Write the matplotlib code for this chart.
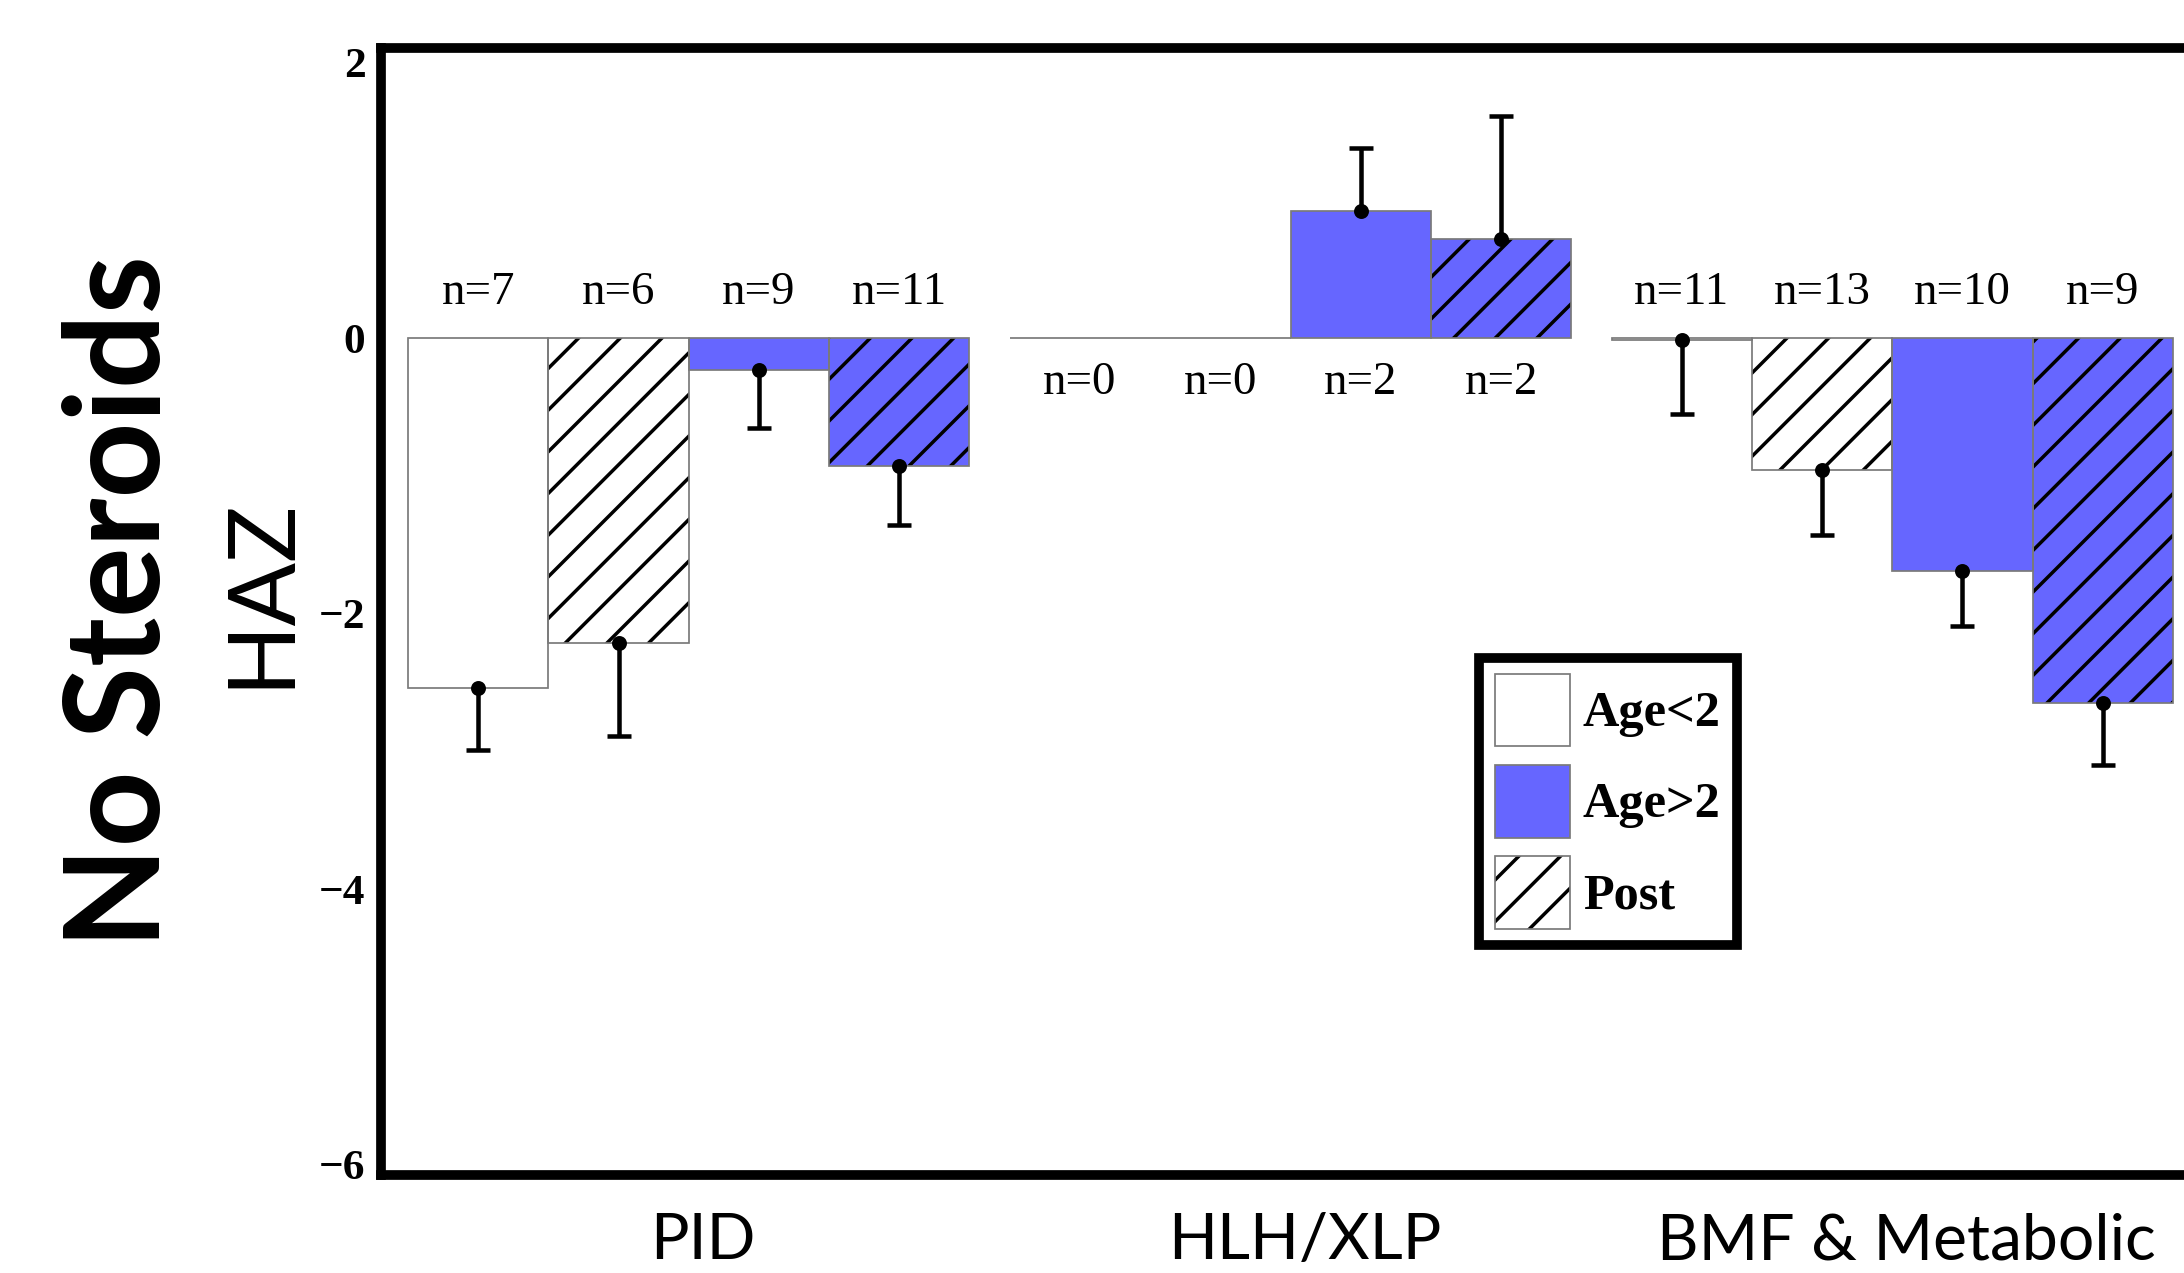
import matplotlib

matplotlib.use("Agg")
import matplotlib.pyplot as plt
import numpy as np
from matplotlib.legend_handler import HandlerTuple
from matplotlib.patches import Patch
from matplotlib.transforms import blended_transform_factory

# HAZ means per group; bar order: Age<2, Age<2 post, Age>2, Age>2 post
GROUPS = ["PID", "HLH/XLP", "BMF & Metabolic"]
PID_HAZ = [-2.54, -2.21, -0.23, -0.93]
HLH_HAZ = [0.0, 0.0, 0.92, 0.72]
BMF_HAZ = [-0.01, -0.96, -1.69, -2.65]
PID_ERR = [0.45, 0.68, 0.42, 0.43]
HLH_ERR = [0.0, 0.0, 0.46, 0.89]
BMF_ERR = [0.54, 0.47, 0.40, 0.45]
PID_N = [7, 6, 9, 11]
HLH_N = [0, 0, 2, 2]
BMF_N = [11, 13, 10, 9]
Y_TICKS = [-6, -4, -2, 0, 2]
LEGEND_LABELS = ["Age<2", "Age>2", "Post"]

BLUE = "#6666ff"
EDGE = "#7a7a7a"
FACES = ["white", "white", BLUE, BLUE]
HATCHES = ["", "//", "", "//"]
GAP = 0.287  # gap between groups, in bar widths
SERIF = "Liberation Serif"
SANS = "Lato"

W, H, DPI = 2184, 1273, 250
plt.rcParams["hatch.linewidth"] = 1.0
plt.rcParams["hatch.color"] = "black"

fig = plt.figure(figsize=(W / DPI, H / DPI), dpi=DPI)
ax = fig.add_axes([381 / W, 98 / H, 1819 / W, 1127 / H])

groups = [
    (PID_HAZ, PID_ERR, PID_N),
    (HLH_HAZ, HLH_ERR, HLH_N),
    (BMF_HAZ, BMF_ERR, BMF_N),
]
for gi, (vals, errs, ns) in enumerate(groups):
    lefts = gi * (4 + GAP) + np.arange(len(vals))
    # n labels sit on the side of zero opposite to the bars
    label_y = -0.32 if max(vals) > 0 else 0.33
    for x, v, e, n, face, hatch in zip(lefts, vals, errs, ns, FACES, HATCHES):
        ax.bar(x, v, 1.0, align="edge", facecolor=face, edgecolor="black",
               linewidth=0, hatch=hatch, zorder=2)
        ax.bar(x, v, 1.0, align="edge", facecolor="none", edgecolor=EDGE,
               linewidth=0.5, zorder=3)
        cx = x + 0.5
        if n > 0:
            tip = v + (e if v > 0 else -e)
            ax.vlines(cx, v, tip, color="black", linewidth=1.3, zorder=4)
            ax.plot([cx], [tip], marker="_", ms=7, mew=1.3, color="black", zorder=4)
            ax.plot([cx], [v], marker="o", ms=3.3, color="black", zorder=5)
        ax.text(cx, label_y, f"n={n}", ha="center", va="center",
                fontfamily=SERIF, fontsize=13.5, zorder=6)

# group names under the frame
trans = blended_transform_factory(ax.transData, fig.transFigure)
for gi, name in enumerate(GROUPS):
    ax.text(gi * (4 + GAP) + 2 + 0.1, 14 / H, name, transform=trans,
            ha="center", va="baseline", fontfamily=SANS, fontsize=18.5)

ax.set_xlim(-0.192, 12.766)
ax.set_ylim(-6.076, 2.107)
ax.set_xticks([])
ax.set_yticks(Y_TICKS)
ax.tick_params(axis="y", length=0, pad=4.5)
for lab in ax.get_yticklabels():
    lab.set_fontfamily(SERIF)
    lab.set_fontweight("bold")
    lab.set_fontsize(12.5)
for sp in ax.spines.values():
    sp.set_linewidth(2.8)
    sp.set_color("black")

handles = [
    Patch(facecolor="white", edgecolor=EDGE, linewidth=0.5),
    Patch(facecolor=BLUE, edgecolor=EDGE, linewidth=0.5),
    (Patch(facecolor="white", edgecolor="black", linewidth=0, hatch="//"),
     Patch(facecolor="none", edgecolor=EDGE, linewidth=0.5)),
]
leg = ax.legend(
    handles, LEGEND_LABELS,
    handler_map={tuple: HandlerTuple(ndivide=1)},
    loc="upper left", bbox_to_anchor=(0.6035, 0.459), borderaxespad=0,
    prop={"family": SERIF, "weight": "bold", "size": 14.5},
    handlelength=1.5, handleheight=1.84, labelspacing=0.37,
    handletextpad=0.25, borderpad=0.32, fancybox=False, framealpha=1,
)
leg.get_frame().set_linewidth(2.8)
leg.get_frame().set_edgecolor("black")

fig.text(160 / W, 1 - 602 / H, "No Steroids", rotation=90, rotation_mode="anchor",
         ha="center", va="baseline", fontfamily=SANS, fontweight="bold", fontsize=38)
fig.text(287 / W, 1 - 592 / H, "HAZ", rotation=90, rotation_mode="anchor",
         ha="center", va="baseline", fontfamily=SANS, fontsize=27)

fig.savefig("out.png", dpi=DPI)
